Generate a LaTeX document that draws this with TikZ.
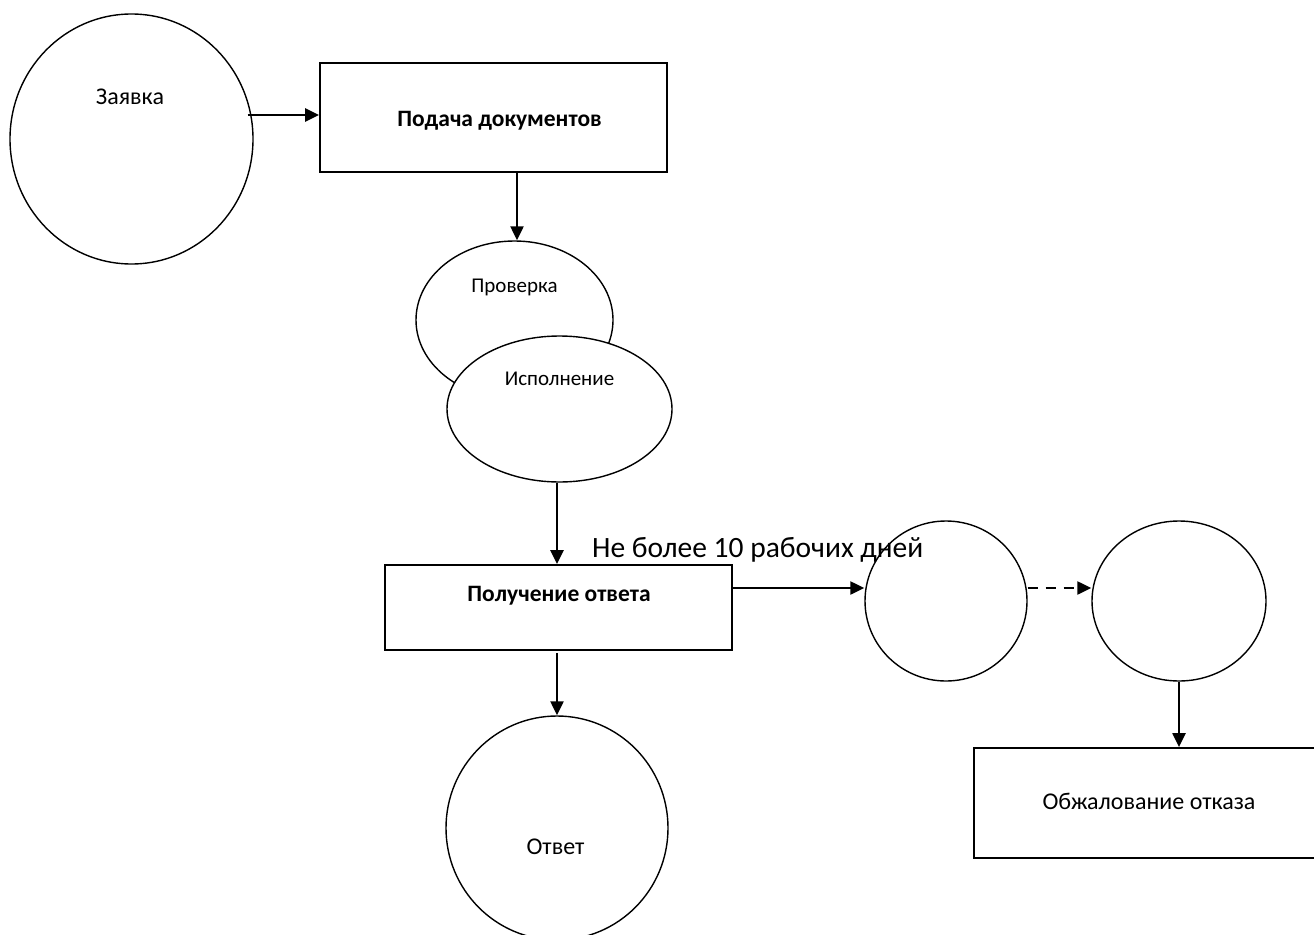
\documentclass[tikz,border=0pt]{standalone}
\usepackage{fontspec}
\setmainfont{Carlito}
\usetikzlibrary{arrows.meta,calc,shapes.geometric}
\begin{document}
\begin{tikzpicture}[x=1pt,y=-1pt,
  ell/.style={draw,ellipse,line width=1.4pt,fill=white,inner sep=0pt},
  ello/.style={draw,ellipse,line width=1.4pt,inner sep=0pt},
  boxn/.style={draw,rectangle,line width=1.8pt,fill=white,inner sep=0pt},
  lbl/.style={inner sep=0pt,font=\fontsize{24}{28}\selectfont},
  slbl/.style={inner sep=0pt,font=\fontsize{21}{25}\selectfont},
  blbl/.style={inner sep=0pt,font=\fontsize{23.5}{28}\selectfont\bfseries},
  arr/.style={line width=2.3pt,-{Triangle[length=14pt,width=13pt]}},
  darr/.style={arr,dash pattern=on 10pt off 8pt}
]
\useasboundingbox (0,0) rectangle (1314,934);
\clip (0,0) rectangle (1314,934);
\fill[white] (0,0) rectangle (1314,934);
% nodes
\node[ell,minimum width=243pt,minimum height=250pt] (zay) at (131.5,139) {};
\node[lbl] (zayT) at (130,97) {Заявка};
\node[boxn,minimum width=347pt,minimum height=109pt] (pod) at (493.5,117.5) {};
\node[blbl] (podT) at (499.5,121) {Подача документов};
\node[ell,minimum width=197pt,minimum height=158pt] (prov) at (514.5,320) {};
\node[slbl] (provT) at (514.5,287) {Проверка};
\node[ell,minimum width=225pt,minimum height=146pt] (isp) at (559.5,409) {};
\node[slbl] (ispT) at (559.5,379) {Исполнение};
\node[boxn,minimum width=347pt,minimum height=85pt] (pol) at (558.5,607.5) {};
\node[blbl] (polT) at (559,596) {Получение ответа};
\node[ello,minimum width=162pt,minimum height=160pt] (ca) at (946,601) {};
\node[ello,minimum width=174pt,minimum height=160pt] (cb) at (1179,601) {};
\node[boxn,minimum width=356pt,minimum height=110pt] (obj) at (1152,803) {};
\node[lbl] (objT) at (1149,801) {Обжалование отказа};
\node[ell,minimum width=222pt,minimum height=224pt] (otv) at (557,828) {};
\node[lbl] (otvT) at (555.5,847) {Ответ};
\node[inner sep=0pt,anchor=west,font=\fontsize{29.5}{34}\selectfont] (srok) at (592,550) {Не более 10 рабочих дней};
% connectors
\draw[arr] ([xshift=-6pt,yshift=2.5pt]zay.east |- pod.west) -- ([yshift=2.5pt]pod.west);
\draw[arr] ([xshift=2.5pt]prov.north |- pod.south) -- ([xshift=2.5pt]prov.north);
\draw[arr] ([xshift=-2.5pt]isp.south) -- ([xshift=-2.5pt]isp.south |- pol.north);
\draw[arr] ([yshift=19.5pt]pol.east) -- ([yshift=19.5pt]pol.east -| ca.west);
\draw[darr] ([yshift=13pt]ca.east) -- ([yshift=13pt]ca.east -| cb.west);
\draw[arr] (cb.south) -- (cb.south |- obj.north);
\draw[arr] ([yshift=-2pt]otv.north |- pol.south) -- (otv.north);
\end{tikzpicture}
\end{document}
